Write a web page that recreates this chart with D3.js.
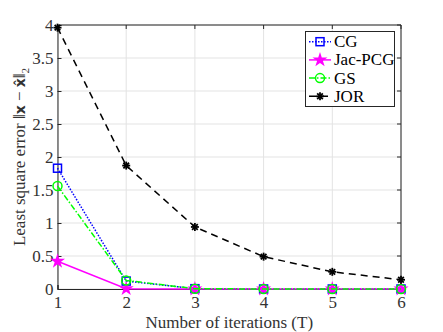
<!DOCTYPE html>
<html>
<head>
<meta charset="utf-8">
<script src="https://cdn.jsdelivr.net/npm/d3@7"></script>
<style>
  html, body { margin: 0; padding: 0; background: #fff; }
</style>
</head>
<body>
<div id="chart"></div>
<script>
// iterations on the x axis
const iterations = [1, 2, 3, 4, 5, 6];
// error values per method
const cgVals  = [1.83, 0.12, 0.005, 0, 0, 0];
const jacVals = [0.42, 0.005, 0, 0, 0, 0];
const gsVals  = [1.56, 0.13, 0.005, 0, 0, 0];
const jorVals = [3.96, 1.87, 0.94, 0.49, 0.26, 0.14];
const yTicks = [0, 0.5, 1, 1.5, 2, 2.5, 3, 3.5, 4];
const seriesNames = ['CG', 'Jac-PCG', 'GS', 'JOR'];

const serif = "'Liberation Serif', 'Times New Roman', 'DejaVu Serif', serif";
const width = 443, height = 332;
const margin = {top: 25, right: 42, bottom: 43, left: 57.5};

const svg = d3.select('#chart').append('svg')
  .attr('width', width).attr('height', height)
  .attr('font-family', serif);

const x = d3.scaleLinear().domain([1, 6]).range([margin.left, width - margin.right]);
const y = d3.scaleLinear().domain([0, 4]).range([height - margin.bottom, margin.top]);

// grid
const grid = svg.append('g');
grid.selectAll('.gx').data(iterations).join('line')
  .attr('x1', d => x(d)).attr('x2', d => x(d))
  .attr('y1', y(0)).attr('y2', y(4))
  .attr('stroke', '#e3e3e3').attr('stroke-width', 1);
grid.selectAll('.gy').data(yTicks).join('line')
  .attr('x1', x(1)).attr('x2', x(6))
  .attr('y1', d => y(d)).attr('y2', d => y(d))
  .attr('stroke', '#e3e3e3').attr('stroke-width', 1);

// axes (inward ticks, box on)
const axisColor = '#262626';
const xAxis = svg.append('g').attr('transform', `translate(0,${y(0)})`)
  .call(d3.axisBottom(x).tickValues(iterations).tickSize(-4).tickPadding(7).tickFormat(d3.format('d')));
const yAxis = svg.append('g').attr('transform', `translate(${x(1)},0)`)
  .call(d3.axisLeft(y).tickValues(yTicks).tickSize(-4).tickPadding(4).tickFormat(d => String(d)));
[xAxis, yAxis].forEach(a => {
  a.attr('font-family', serif).attr('font-size', 17);
  a.select('.domain').attr('stroke', axisColor);
  a.selectAll('.tick line').attr('stroke', axisColor);
  a.selectAll('.tick text').attr('fill', '#333');
});
svg.append('line').attr('x1', x(1)).attr('x2', x(6)).attr('y1', y(4)).attr('y2', y(4))
  .attr('stroke', axisColor);
svg.append('line').attr('x1', x(6)).attr('x2', x(6)).attr('y1', y(0)).attr('y2', y(4))
  .attr('stroke', axisColor);
svg.append('g').selectAll('line').data(iterations).join('line')
  .attr('x1', d => x(d)).attr('x2', d => x(d)).attr('y1', y(4)).attr('y2', y(4) + 4)
  .attr('stroke', axisColor);
svg.append('g').selectAll('line').data(yTicks).join('line')
  .attr('x1', x(6)).attr('x2', x(6) - 4).attr('y1', d => y(d)).attr('y2', d => y(d))
  .attr('stroke', axisColor);

// markers
function marker(g, type, color, cx, cy) {
  if (type === 'square') {
    g.append('rect').attr('x', cx - 4).attr('y', cy - 4).attr('width', 8).attr('height', 8)
      .attr('fill', 'none').attr('stroke', color).attr('stroke-width', 1.5);
  } else if (type === 'circle') {
    g.append('circle').attr('cx', cx).attr('cy', cy).attr('r', 4.5)
      .attr('fill', 'none').attr('stroke', color).attr('stroke-width', 1.5);
  } else if (type === 'star') {
    g.append('path').attr('d', d3.symbol(d3.symbolStar, 70)())
      .attr('transform', `translate(${cx},${cy})`).attr('fill', color);
  } else if (type === 'asterisk') {
    const r = 4;
    for (let k = 0; k < 4; k++) {
      const a = k * Math.PI / 4;
      g.append('line')
        .attr('x1', cx - r * Math.cos(a)).attr('y1', cy - r * Math.sin(a))
        .attr('x2', cx + r * Math.cos(a)).attr('y2', cy + r * Math.sin(a))
        .attr('stroke', color).attr('stroke-width', 1.8);
    }
  }
}

const series = [
  {name: seriesNames[0], vals: cgVals,  color: '#0000ff', dash: '1.5,1.5', marker: 'square'},
  {name: seriesNames[1], vals: jacVals, color: '#ff00ff', dash: null,      marker: 'star'},
  {name: seriesNames[2], vals: gsVals,  color: '#00ff00', dash: '6,2,1.5,2', marker: 'circle'},
  {name: seriesNames[3], vals: jorVals, color: '#000000', dash: '7,5',     marker: 'asterisk'}
];

const line = d3.line().x((d, i) => x(iterations[i])).y(d => y(d));
series.forEach(s => {
  const g = svg.append('g');
  g.append('path').datum(s.vals).attr('d', line)
    .attr('fill', 'none').attr('stroke', s.color).attr('stroke-width', 1.5)
    .attr('stroke-dasharray', s.dash);
  s.vals.forEach((v, i) => marker(g, s.marker, s.color, x(iterations[i]), y(v)));
});

// legend
const lg = svg.append('g');
lg.append('rect').attr('x', 305.5).attr('y', 31.5).attr('width', 89).attr('height', 75)
  .attr('fill', '#fff').attr('stroke', axisColor).attr('stroke-width', 1);
series.forEach((s, i) => {
  const cy = 41.7 + i * 18.2;
  lg.append('line').attr('x1', 309).attr('x2', 331).attr('y1', cy).attr('y2', cy)
    .attr('stroke', s.color).attr('stroke-width', 1.5).attr('stroke-dasharray', s.dash);
  marker(lg, s.marker, s.color, 320, cy);
  lg.append('text').attr('x', 334).attr('y', cy + 5.5).attr('font-size', 17)
    .attr('fill', '#000').text(s.name);
});

// axis labels
svg.append('text').attr('x', (x(1) + x(6)) / 2).attr('y', 328)
  .attr('text-anchor', 'middle').attr('font-size', 17).attr('fill', '#333')
  .text('Number of iterations (T)');

const yl = svg.append('text')
  .attr('transform', `translate(25,${(y(0) + y(4)) / 2}) rotate(-90)`)
  .attr('text-anchor', 'middle').attr('font-size', 17).attr('fill', '#333');
yl.append('tspan').text('Least square error \u2016');
yl.append('tspan').attr('font-weight', 'bold').attr('font-family', "'DejaVu Sans', sans-serif")
  .attr('font-size', 14).text('x');
yl.append('tspan').text(' \u2212 ');
yl.append('tspan').attr('font-weight', 'bold').attr('font-family', "'DejaVu Sans', sans-serif")
  .attr('font-size', 14).text('x\u0302');
yl.append('tspan').text('\u2016');
yl.append('tspan').attr('font-size', 11).attr('dy', 4).text('2');
</script>
</body>
</html>
